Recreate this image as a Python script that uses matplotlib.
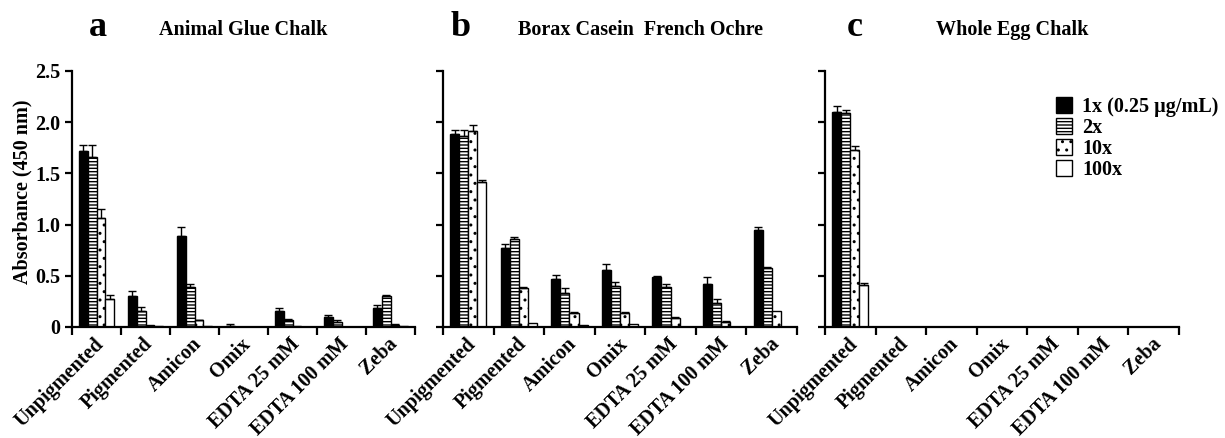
import numpy as np
import matplotlib
matplotlib.use("Agg")
import matplotlib.pyplot as plt
import matplotlib.transforms as mtransforms
from matplotlib.patches import Patch

plt.rcParams['font.family'] = ['Liberation Serif', 'DejaVu Serif']
plt.rcParams['font.weight'] = 'bold'
plt.rcParams['hatch.linewidth'] = 1.0

cats = ['Unpigmented', 'Pigmented', 'Amicon', 'Omix', 'EDTA 25 mM', 'EDTA 100 mM', 'Zeba']
series = ['1x (0.25 \u00b5g/mL)', '2x', '10x', '100x']

# panel a - Animal Glue Chalk
a_1x = [1.72, 0.30, 0.89, 0.01, 0.155, 0.10, 0.185]
a_1x_err = [0.06, 0.05, 0.09, 0.015, 0.03, 0.015, 0.025]
a_2x = [1.66, 0.16, 0.39, 0.0, 0.07, 0.045, 0.30]
a_2x_err = [0.12, 0.04, 0.03, 0.0, 0.01, 0.02, 0.015]
a_10x = [1.06, 0.015, 0.065, 0.0, 0.005, 0.0, 0.02]
a_10x_err = [0.09, 0.0, 0.005, 0.0, 0.0, 0.0, 0.005]
a_100x = [0.27, 0.01, 0.005, 0.0, 0.0, 0.0, 0.005]
a_100x_err = [0.04, 0.0, 0.0, 0.0, 0.0, 0.0, 0.0]

# panel b - Borax Casein French Ochre
b_1x = [1.88, 0.77, 0.47, 0.555, 0.49, 0.42, 0.945]
b_1x_err = [0.04, 0.04, 0.035, 0.065, 0.01, 0.065, 0.035]
b_2x = [1.87, 0.86, 0.335, 0.40, 0.39, 0.23, 0.58]
b_2x_err = [0.05, 0.02, 0.045, 0.04, 0.03, 0.04, 0.01]
b_10x = [1.91, 0.385, 0.134, 0.14, 0.09, 0.045, 0.156]
b_10x_err = [0.06, 0.005, 0.013, 0.01, 0.01, 0.01, 0.0]
b_100x = [1.42, 0.04, 0.02, 0.025, 0.0, 0.0, 0.0]
b_100x_err = [0.02, 0.0, 0.0, 0.0, 0.0, 0.0, 0.0]

# panel c - Whole Egg Chalk
c_1x = [2.10, 0, 0, 0, 0, 0, 0]
c_1x_err = [0.06, 0, 0, 0, 0, 0, 0]
c_2x = [2.09, 0, 0, 0, 0, 0, 0]
c_2x_err = [0.03, 0, 0, 0, 0, 0, 0]
c_10x = [1.73, 0, 0, 0, 0, 0, 0]
c_10x_err = [0.04, 0, 0, 0, 0, 0, 0]
c_100x = [0.414, 0, 0, 0, 0, 0, 0]
c_100x_err = [0.015, 0, 0, 0, 0, 0, 0]

styles = [dict(facecolor='black', hatch=None),
          dict(facecolor='white', hatch='-----'),
          dict(facecolor='white', hatch='..'),
          dict(facecolor='white', hatch=None)]

fig = plt.figure(figsize=(12.25, 4.38), dpi=100)
bottom = 1 - 327 / 438
height = (327 - 71) / 438
axes_pos = [(72, 415), (443, 797), (825, 1179)]
panels = [
    ('a', 'Animal Glue Chalk', [a_1x, a_2x, a_10x, a_100x], [a_1x_err, a_2x_err, a_10x_err, a_100x_err], 98, 243),
    ('b', 'Borax Casein  French Ochre', [b_1x, b_2x, b_10x, b_100x], [b_1x_err, b_2x_err, b_10x_err, b_100x_err], 461, 640),
    ('c', 'Whole Egg Chalk', [c_1x, c_2x, c_10x, c_100x], [c_1x_err, c_2x_err, c_10x_err, c_100x_err], 855, 1012),
]

w = 0.18
off = 0.14
x = np.arange(len(cats))
shift = mtransforms.ScaledTranslation(-2 / 72, 0, fig.dpi_scale_trans)
for i, (letter, title, vals, errs, lx, tx) in enumerate(panels):
    x0, x1 = axes_pos[i]
    ax = fig.add_axes([x0 / 1225, bottom, (x1 - x0) / 1225, height])
    for j in range(4):
        pos = x + off + w * (j + 0.5)
        ax.bar(pos, vals[j], width=w, edgecolor='black', linewidth=1, **styles[j])
        v = np.array(vals[j])
        e = np.array(errs[j])
        m = e > 0
        ax.errorbar(pos[m], v[m], yerr=[np.zeros(m.sum()), e[m]], fmt='none',
                    ecolor='black', elinewidth=1, capsize=3, capthick=1)
    ax.set_xlim(0, 7)
    ax.set_ylim(0, 2.5)
    ax.spines['top'].set_visible(False)
    ax.spines['right'].set_visible(False)
    ax.spines['left'].set_linewidth(1.6)
    ax.spines['bottom'].set_linewidth(1.6)
    ax.set_yticks([0, 0.5, 1.0, 1.5, 2.0, 2.5])
    ax.tick_params(axis='y', width=1.6, length=5)
    if i == 0:
        ax.set_yticklabels(['0', '0.5', '1.0', '1.5', '2.0', '2.5'], fontsize=14.5, fontweight='bold')
        ax.set_ylabel('Absorbance (450 nm)', fontsize=14.5, fontweight='bold')
        ax.yaxis.set_label_coords(-0.115, 0.53)
    else:
        ax.set_yticklabels([])
    ax.set_xticks(np.arange(0, 8))
    ax.set_xticklabels([])
    ax.tick_params(axis='x', which='major', width=1.6, length=6)
    ax.set_xticks(x + 0.5, minor=True)
    ax.set_xticklabels(cats, minor=True, rotation=45, ha='right', va='top',
                       rotation_mode='anchor', fontsize=14.5, fontweight='bold')
    ax.tick_params(axis='x', which='minor', length=0, pad=5)
    for lab in ax.get_xticklabels(minor=True):
        lab.set_transform(lab.get_transform() + shift)
    fig.text(lx / 1225, 1 - 27 / 438, letter, fontsize=26, fontweight='bold', ha='center', va='center')
    fig.text(tx / 1225, 1 - 30 / 438, title, fontsize=14.5, fontweight='bold', ha='center', va='center')
    if i == 2:
        handles = [Patch(edgecolor='black', linewidth=1, **styles[j]) for j in range(4)]
        ax.legend(handles, series, loc='upper left', bbox_to_anchor=(0.63, 0.93),
                  frameon=False, fontsize=14.5, handlelength=0.8, handleheight=0.8,
                  handletextpad=0.5, labelspacing=0.05, borderaxespad=0)

fig.savefig('out.png', dpi=100)
